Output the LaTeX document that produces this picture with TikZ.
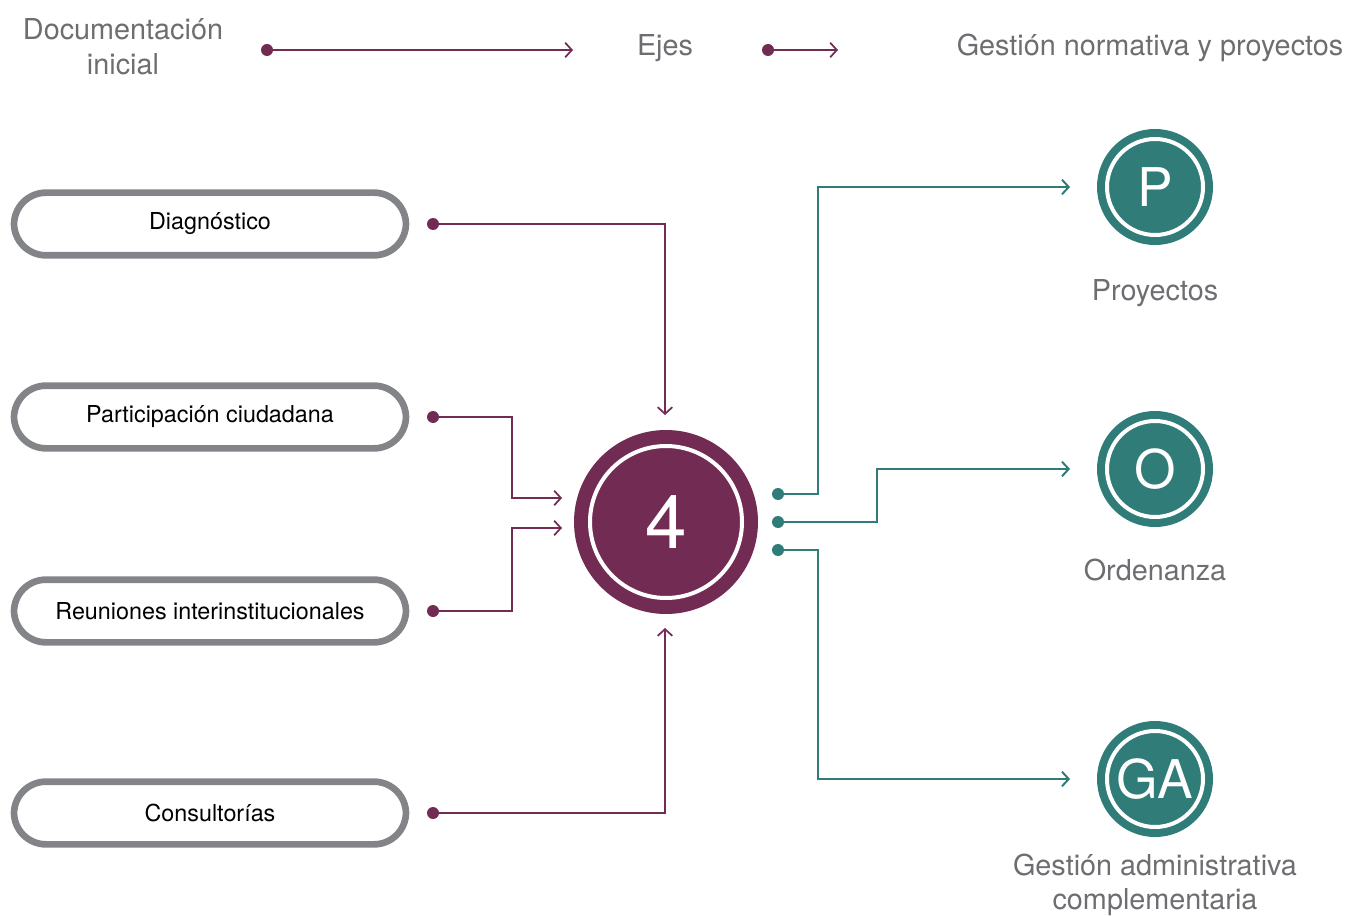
\documentclass[tikz,border=0pt]{standalone}
\usepackage{fontspec}
\setmainfont{TeX Gyre Heros}
\usetikzlibrary{arrows.meta}
\definecolor{purp}{HTML}{722B53}
\definecolor{teal2}{HTML}{307C78}
\definecolor{boxgray}{HTML}{838488}
\definecolor{txtgray}{HTML}{6D6E71}
\tikzset{
  px/.style={x=0.75pt,y=-0.75pt},
  stepbox/.style={draw=boxgray,line width=5pt,rounded corners=24pt,minimum width=294pt,minimum height=47pt,fill=white,font=\fontsize{17.5}{20}\selectfont,text=black},
  dotp/.style={circle,fill=purp,inner sep=0pt,minimum size=9pt},
  dott/.style={circle,fill=teal2,inner sep=0pt,minimum size=9pt},
  conp/.style={draw=purp,line width=1.3pt,-{Straight Barb[length=5pt,width=11pt,line width=1.3pt]}},
  cont/.style={draw=teal2,line width=1.5pt,-{Straight Barb[length=5pt,width=11pt,line width=1.5pt]}},
  head/.style={text=txtgray,font=\fontsize{21.6}{26}\selectfont,align=center},
  lab/.style={text=txtgray,font=\fontsize{21.6}{26}\selectfont,align=center},
  bigc/.style={circle,fill=purp,minimum size=138pt,inner sep=0pt,text=white,font=\fontsize{56}{60}\selectfont},
  smc/.style={circle,fill=teal2,minimum size=87pt,inner sep=0pt,text=white,font=\fontsize{40}{44}\selectfont},
}
\begin{document}
\begin{tikzpicture}[px]
\useasboundingbox (0,0) rectangle (1356,916);
% header
\node[head] (hdoc) at (123,47) {Documentación\\inicial};
\node[head] (heje) at (665,48) {Ejes};
\node[head] (hges) at (1150,48) {Gestión normativa y proyectos};
\node[dotp] (d1) at (267,50) {};
\coordinate (a1) at (573,50);
\draw[conp] (d1.center) -- (a1);
\node[dotp] (d2) at (768,50) {};
\coordinate (a2) at (838,50);
\draw[conp] (d2.center) -- (a2);
% boxes
\node[stepbox] (b1) at (210,224) {Diagnóstico};
\node[stepbox] (b2) at (210,417) {Participación ciudadana};
\node[stepbox] (b3) at (210,611) {Reuniones interinstitucionales};
\node[stepbox] (b4) at (210,813) {Consultorías};
% centre
\node[bigc] (c4) at (666,522) {4};
\draw[white,line width=3pt] (c4.center) circle[radius=76];
% purple dots and connectors
\node[dotp] (p1) at (433,224) {};
\node[dotp] (p2) at (433,417) {};
\node[dotp] (p3) at (433,611) {};
\node[dotp] (p4) at (433,813) {};
\coordinate (e1) at (665,415);
\coordinate (e2) at (562,498);
\coordinate (e3) at (562,528);
\coordinate (e4) at (665,628);
\draw[conp] (p1.center) -- (665,224) -- (e1);
\draw[conp] (p2.center) -- (512,417) -- (512,498) -- (e2);
\draw[conp] (p3.center) -- (512,611) -- (512,528) -- (e3);
\draw[conp] (p4.center) -- (665,813) -- (e4);
% right circles
\node[smc] (cp) at (1155,187) {P};
\draw[white,line width=3pt] (cp.center) circle[radius=48];
\node[smc] (co) at (1155,469) {O};
\draw[white,line width=3pt] (co.center) circle[radius=48];
\node[smc] (cg) at (1155,779) {GA};
\draw[white,line width=3pt] (cg.center) circle[radius=48];
\node[lab] (lp) at (1155,293) {Proyectos};
\node[lab] (lo) at (1155,570) {Ordenanza};
\node[lab] (lg) at (1155,885) {Gestión administrativa\\complementaria};
% teal connectors
\node[dott] (t1) at (778,494) {};
\node[dott] (t2) at (778,522) {};
\node[dott] (t3) at (778,550) {};
\coordinate (f1) at (1070,187);
\coordinate (f2) at (1070,469);
\coordinate (f3) at (1070,779);
\draw[cont] (t1.center) -- (818,494) -- (818,187) -- (f1);
\draw[cont] (t2.center) -- (877,522) -- (877,469) -- (f2);
\draw[cont] (t3.center) -- (818,550) -- (818,779) -- (f3);
\end{tikzpicture}
\end{document}
